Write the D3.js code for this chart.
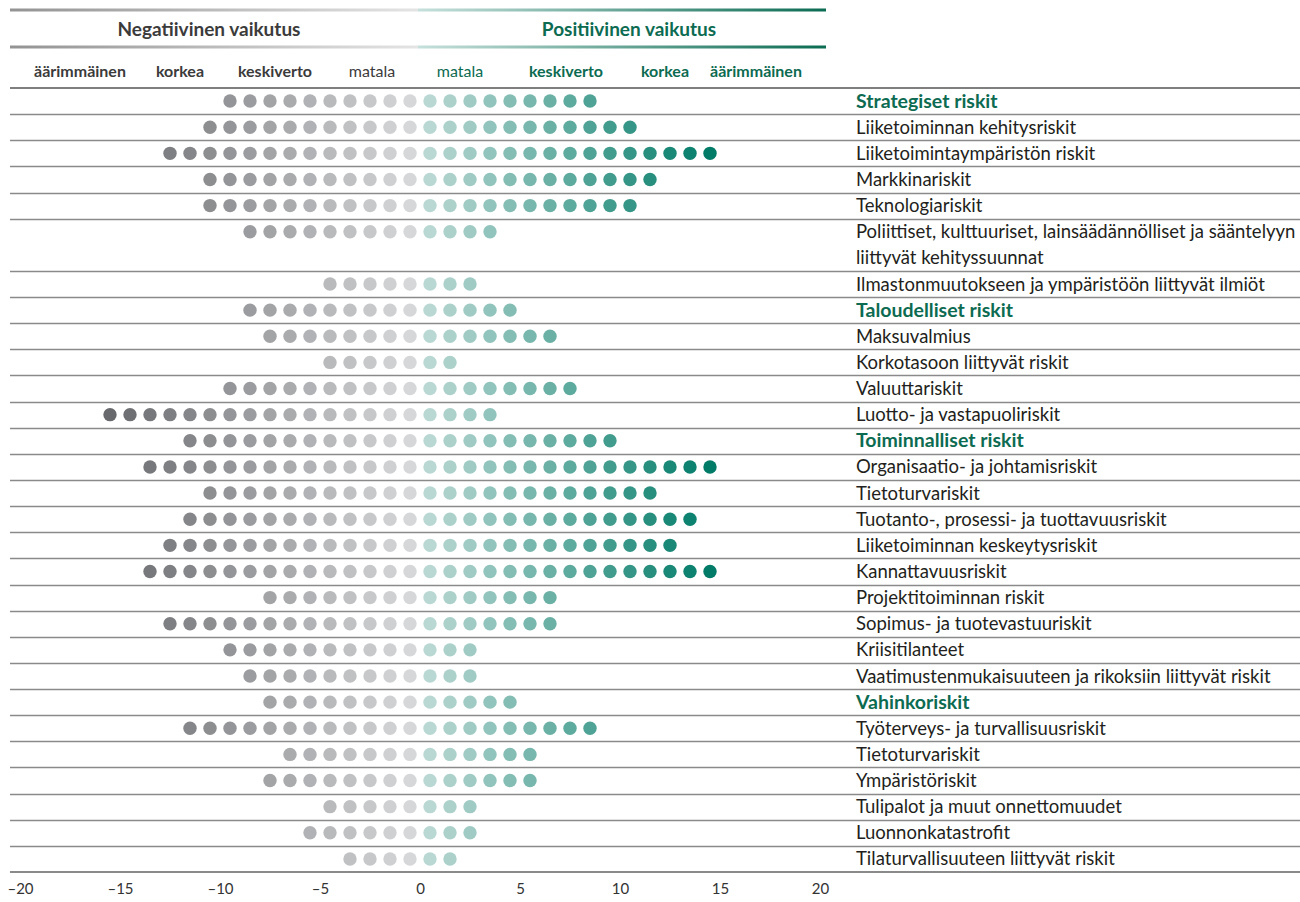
<!DOCTYPE html>
<html>
<head>
<meta charset="utf-8">
<script src="https://cdn.jsdelivr.net/npm/d3@7"></script>
<style>
  body { margin: 0; background: #fff; }
  svg text { font-family: Lato, "Open Sans", sans-serif; }
</style>
</head>
<body>
<svg id="chart"></svg>
<script>
const WIDTH = 1300;
const HEIGHT = 902;

// risk rows, bold rows are the group headers
const riskLabels = [
  "Strategiset riskit",
  "Liiketoiminnan kehitysriskit",
  "Liiketoimintaympäristön riskit",
  "Markkinariskit",
  "Teknologiariskit",
  "Poliittiset, kulttuuriset, lainsäädännölliset ja sääntelyyn\nliittyvät kehityssuunnat",
  "Ilmastonmuutokseen ja ympäristöön liittyvät ilmiöt",
  "Taloudelliset riskit",
  "Maksuvalmius",
  "Korkotasoon liittyvät riskit",
  "Valuuttariskit",
  "Luotto- ja vastapuoliriskit",
  "Toiminnalliset riskit",
  "Organisaatio- ja johtamisriskit",
  "Tietoturvariskit",
  "Tuotanto-, prosessi- ja tuottavuusriskit",
  "Liiketoiminnan keskeytysriskit",
  "Kannattavuusriskit",
  "Projektitoiminnan riskit",
  "Sopimus- ja tuotevastuuriskit",
  "Kriisitilanteet",
  "Vaatimustenmukaisuuteen ja rikoksiin liittyvät riskit",
  "Vahinkoriskit",
  "Työterveys- ja turvallisuusriskit",
  "Tietoturvariskit",
  "Ympäristöriskit",
  "Tulipalot ja muut onnettomuudet",
  "Luonnonkatastrofit",
  "Tilaturvallisuuteen liittyvät riskit"
];
const groupRows = ["Strategiset riskit", "Taloudelliset riskit", "Toiminnalliset riskit", "Vahinkoriskit"];

// negative impact (min) and positive impact (max) per row
const negImpact = [-10, -11, -13, -11, -11, -9, -5, -9, -8, -5, -10, -16, -12, -14, -11, -12, -13, -14, -8, -13, -10, -9, -8, -12, -7, -8, -5, -6, -4];
const posImpact = [9, 11, 15, 12, 11, 4, 3, 5, 7, 2, 8, 4, 10, 15, 12, 14, 13, 15, 7, 7, 3, 3, 5, 9, 6, 6, 3, 3, 2];

const axisTicks = [-20, -15, -10, -5, 0, 5, 10, 15, 20];
const levelLabels = ["äärimmäinen", "korkea", "keskiverto", "matala", "matala", "keskiverto", "korkea", "äärimmäinen"];
const levelCenters = [-17, -12, -7.25, -2.4, 2, 7.3, 12.25, 16.8];
const levelBold = [true, true, true, false, false, true, true, true];

const GREEN = "#0c6b51";
const DARK = "#3b3b3b";
const LABEL_X = 856;

let svg = d3.select("#chart").attr("width", WIDTH).attr("height", HEIGHT);

let x = d3.scaleLinear().domain([-20, 20]).range([20, 820]);

// row heights in units (two-line label takes two)
const rowUnits = riskLabels.map(d => d.split("\n").length);
const rowStart = d3.cumsum([0].concat(rowUnits));
let y = d3.scaleLinear().domain([0, d3.sum(rowUnits)]).range([88, 872]);
const UNIT = y(1) - y(0);

let negColor = d3.scaleLinear().domain([-0.5, -15.5]).range(["#d6d7d9", "#68696c"]);
let posColor = d3.scaleLinear().domain([0.5, 14.5]).range(["#b9d8d3", "#007b68"]);

// header gradient lines
let defs = svg.append("defs");
let grad = defs.append("linearGradient").attr("id", "topGrad")
               .attr("gradientUnits", "userSpaceOnUse")
               .attr("x1", 10).attr("x2", 826).attr("y1", 0).attr("y2", 0);
grad.append("stop").attr("offset", "0%").attr("stop-color", "#939393");
grad.append("stop").attr("offset", "50%").attr("stop-color", "#e4e4e4");
grad.append("stop").attr("offset", "50%").attr("stop-color", "#c6e0db");
grad.append("stop").attr("offset", "100%").attr("stop-color", "#0b6b53");

[10, 47].forEach(yy => {
  svg.append("rect").attr("x", 10).attr("y", yy - 1.5).attr("width", 816).attr("height", 3)
     .attr("fill", "url(#topGrad)");
});

svg.append("text").attr("x", 209).attr("y", 36).attr("text-anchor", "middle")
   .attr("font-size", 19).attr("font-weight", "bold").attr("fill", DARK)
   .text("Negatiivinen vaikutus");
svg.append("text").attr("x", 629).attr("y", 36).attr("text-anchor", "middle")
   .attr("font-size", 19).attr("font-weight", "bold").attr("fill", GREEN)
   .text("Positiivinen vaikutus");

svg.selectAll(".level").data(levelLabels).enter().append("text")
   .attr("class", "level")
   .attr("x", (d, i) => x(levelCenters[i]))
   .attr("y", 77)
   .attr("text-anchor", "middle")
   .attr("font-size", 16)
   .attr("font-weight", (d, i) => levelBold[i] ? "bold" : "normal")
   .attr("fill", (d, i) => i < 4 ? DARK : GREEN)
   .text(d => d);

// row separators
svg.append("line").attr("x1", 10).attr("x2", WIDTH).attr("y1", y(0)).attr("y2", y(0))
   .attr("stroke", "#555").attr("stroke-width", 1.5);
svg.selectAll(".sep").data(rowStart.slice(1, -1)).enter().append("line")
   .attr("class", "sep")
   .attr("x1", 10).attr("x2", WIDTH)
   .attr("y1", d => Math.round(y(d)) + 0.5).attr("y2", d => Math.round(y(d)) + 0.5)
   .attr("stroke", "#8a8a8a").attr("stroke-width", 1.4);

// dots
let rows = svg.selectAll(".row").data(riskLabels).enter().append("g")
              .attr("class", "row")
              .attr("transform", (d, i) => `translate(0,${y(rowStart[i]) + UNIT / 2})`);

rows.selectAll("circle")
    .data((d, i) => d3.range(negImpact[i], posImpact[i]).map(v => v + 0.5))
    .enter().append("circle")
    .attr("cx", d => x(d))
    .attr("cy", 0)
    .attr("r", 6.7)
    .attr("fill", d => d < 0 ? negColor(d) : posColor(d));

rows.append("text")
    .attr("x", LABEL_X)
    .attr("y", 6.5)
    .attr("font-size", d => groupRows.includes(d) ? 19.5 : 18.5)
    .attr("font-weight", d => groupRows.includes(d) ? "bold" : "normal")
    .attr("fill", d => groupRows.includes(d) ? GREEN : "#231f20")
    .selectAll("tspan")
    .data(d => d.split("\n"))
    .enter().append("tspan")
    .attr("x", LABEL_X)
    .attr("dy", (d, i) => i === 0 ? 0 : UNIT)
    .text(d => d);

// bottom axis
let axis = svg.append("g")
              .attr("transform", `translate(0,${y(d3.sum(rowUnits))})`)
              .call(d3.axisBottom(x).tickValues(axisTicks).tickSize(0).tickPadding(11)
                      .tickFormat(d => d < 0 ? "–" + Math.abs(d) : d));
axis.select(".domain").remove();
axis.selectAll("text").attr("font-size", 15).attr("fill", "#333")
    .style("font-family", "Lato, sans-serif");
svg.append("line").attr("x1", 10).attr("x2", WIDTH)
   .attr("y1", y(d3.sum(rowUnits))).attr("y2", y(d3.sum(rowUnits)))
   .attr("stroke", "#8a8a8a").attr("stroke-width", 2);
</script>
</body>
</html>
